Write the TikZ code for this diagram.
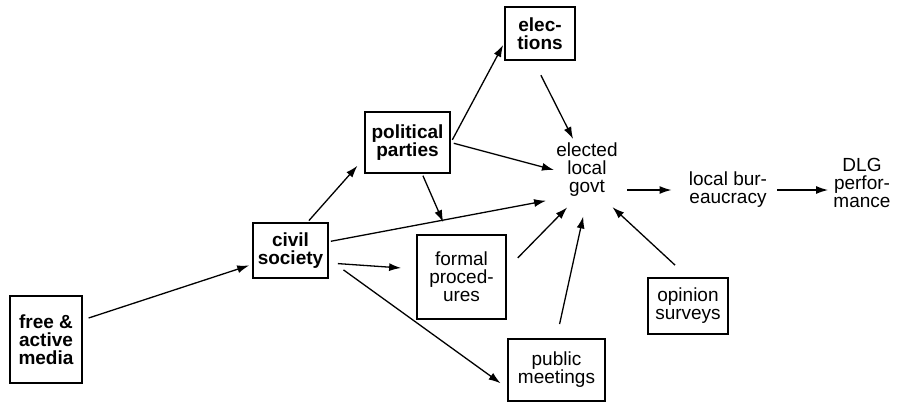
\documentclass[tikz,border=0pt]{standalone}
\usepackage{fontspec}
\setmainfont{Liberation Sans}
\usetikzlibrary{arrows.meta}

\begin{document}
\begin{tikzpicture}[
   x=0.5pt, y=-0.5pt,
   font=\fontsize{9.5}{9}\selectfont,
   box/.style ={rectangle,draw=black,line width=0.9pt,align=center,inner sep=1pt},
   bbox/.style={box,font=\fontsize{9.5}{9}\selectfont\bfseries},
   txt/.style ={rectangle,inner sep=1pt,align=center},
   arr/.style ={-{Latex[length=6pt,width=4pt]},line width=0.65pt,black}]
   \useasboundingbox (0,0) rectangle (900,402);
   % boxed items
   \node[bbox,minimum width=36pt,minimum height=43.5pt] (media) at (46,339.5) {free \&\\active\\media};
   \node[bbox,minimum width=37.5pt,minimum height=27.5pt] (civil) at (290.5,250.5) {civil\\society};
   \node[bbox,minimum width=42.5pt,minimum height=30.5pt] (parties) at (407.5,142.5) {political\\parties};
   \node[bbox,minimum width=35pt,minimum height=26.5pt] (elect) at (540,33.5) {elec-\\tions};
   \node[box,minimum width=44.5pt,minimum height=42pt] (formal) at (461.5,277) {formal\\proced-\\ures};
   \node[box,minimum width=48.5pt,minimum height=31pt] (public) at (556.5,370) {public\\meetings};
   \node[box,minimum width=40pt,minimum height=28pt] (opinion) at (688,306) {opinion\\surveys};
   % unboxed items
   \node[txt] (govt) at (587,170) {elected\\local\\govt};
   \node[txt] (bureau) at (728,190) {local bur-\\eaucracy};
   \node[txt] (dlg) at (862,183) {DLG\\perfor-\\mance};
   % connectors
   \draw[arr,shorten <=3pt,shorten >=1.5pt] (media.28) -- (civil.200);
   \draw[arr,shorten <=1pt,shorten >=5pt] (civil.59) -- (parties.200);
   \draw[arr,shorten <=1pt,shorten >=4pt] (civil.13) -- (govt.south west);
   \draw[arr,shorten <=4.5pt,shorten >=7.5pt] (civil.-18) -- (formal.170);
   \draw[arr,shorten <=9pt,shorten >=4pt] (civil.-13) -- (public.200);
   \draw[arr,shorten <=1.5pt,shorten >=1pt] (parties.east) -- (elect.195);
   \draw[arr,shorten <=1.5pt,shorten >=0pt] (parties.east) -- (govt.west);
   \draw[arr,shorten <=1pt,shorten >=6.5pt] (parties.-65) -- (formal.107);
   \draw[arr,shorten <=8pt,shorten >=1pt] (elect.-103) -- (govt.114);
   \draw[arr,shorten <=7.8pt,shorten >=5.7pt] (formal.10) -- (govt.-112);
   \draw[arr,shorten <=7.2pt,shorten >=8.8pt] (public.north) -- (govt.south);
   \draw[arr,shorten <=8.8pt,shorten >=5.8pt] (opinion.north) -- (govt.-60);
   \draw[arr,shorten <=3.5pt,shorten >=7.5pt] (govt.east |- bureau.west) -- (bureau.west);
   \draw[arr,shorten <=4pt,shorten >=1.5pt] (bureau.east) -- (bureau.east -| dlg.west);
\end{tikzpicture}
\end{document}
